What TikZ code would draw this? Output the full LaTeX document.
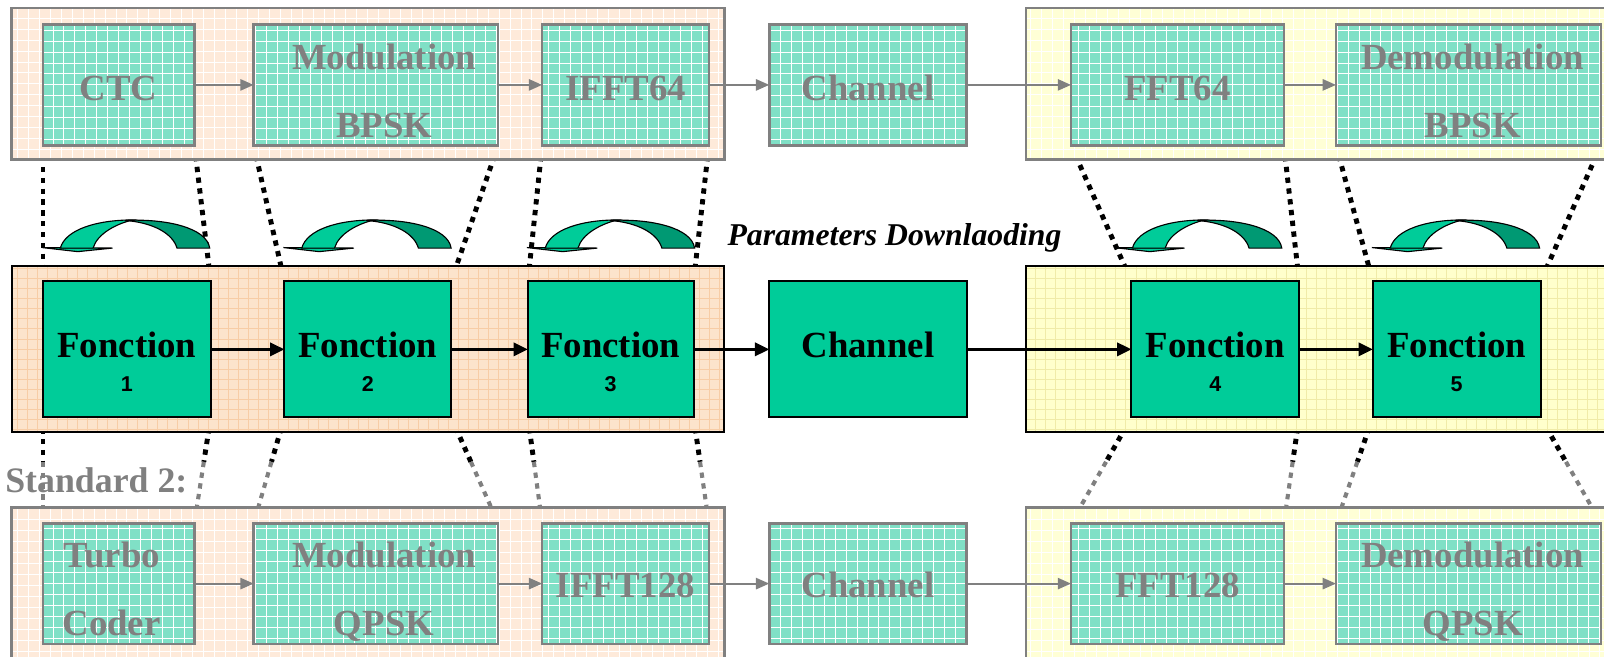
\documentclass[tikz,border=0pt]{standalone}
\usepackage{fontspec}
\setmainfont{Liberation Serif}
\newfontfamily\numfont{Liberation Sans}
\usetikzlibrary{arrows.meta,calc}
\pgfdeclarelayer{lines}
\pgfdeclarelayer{back}
\pgfsetlayers{lines,back,main}
\definecolor{vivid}{HTML}{00CC99}
\definecolor{vividdark}{HTML}{009973}
\definecolor{fadebox}{HTML}{80E0C6}
\definecolor{fgray}{HTML}{808080}
\definecolor{peachF}{HTML}{FEEADA}
\definecolor{peachM}{HTML}{FCE4CC}
\definecolor{peachGrid}{HTML}{F7CDA6}
\definecolor{yellowF}{HTML}{FFFFD6}
\definecolor{yellowM}{HTML}{FFFFCC}
\definecolor{yellowGrid}{HTML}{F0EBA8}
\tikzset{
  gridwhite/.style={path picture={\draw[white, line width=0.9pt, step=10.7pt]
      (path picture bounding box.south west) grid (path picture bounding box.north east);}},
  gridpeach/.style={path picture={\draw[peachGrid, line width=0.6pt, step=9.8pt]
      (path picture bounding box.south west) grid (path picture bounding box.north east);}},
  gridyellow/.style={path picture={\draw[yellowGrid, line width=0.6pt, step=9.8pt]
      (path picture bounding box.south west) grid (path picture bounding box.north east);}},
  fpanel/.style={draw=fgray, line width=2.5pt, inner sep=0pt, outer sep=0pt, gridwhite},
  mpanel/.style={draw=black, line width=2pt, inner sep=0pt, outer sep=0pt},
  fbox/.style={draw=fgray, fill=fadebox, line width=2.5pt, inner sep=0pt, outer sep=0pt,
      minimum height=118pt, gridwhite},
  mbox/.style={draw=black, fill=vivid, line width=2pt, inner sep=0pt, outer sep=0pt,
      minimum height=133pt},
  ftext/.style={anchor=base, inner sep=0pt, text=fgray, font=\fontsize{36}{36}\selectfont\bfseries},
  mtext/.style={anchor=base, inner sep=0pt, font=\fontsize{36}{36}\selectfont\bfseries},
  ntext/.style={anchor=base, inner sep=0pt, font=\fontsize{21}{21}\selectfont\numfont\bfseries},
  dotline/.style={line width=4.8pt, dash pattern=on 5.2pt off 5.4pt},
  dotblack/.style={dotline, draw=black},
  dotgray/.style={dotline, draw=fgray, line width=4pt},
  marr/.style={draw=black, line width=2.6pt, -{Triangle[length=14pt,width=13pt]}},
  farr/.style={draw=fgray, line width=1.8pt, -{Triangle[length=13pt,width=11pt]}},
  uturn/.pic={
    \filldraw[fill=vivid, draw=black, line width=1.1pt] (-1,-0.5) -- (68,0) -- (34,3.5) -- cycle;
    \filldraw[fill=vivid, draw=black, line width=1.1pt] (17,0) .. controls (22,-18) and (52,-27.5) .. (88,-27.5)
       .. controls (72,-24) and (53,-14) .. (49,0) -- cycle;
    \filldraw[fill=vividdark, draw=black, line width=1.1pt] (80,-27) .. controls (120,-29) and (160,-20) .. (163,0)
       -- (131,0) .. controls (127,-14) and (108,-25) .. (80,-27) -- cycle;
  }
}
\begin{document}
\begin{tikzpicture}[x=1pt,y=-1pt]
\useasboundingbox (0,0) rectangle (1568,642);

% ---------- panels ----------
\begin{pgfonlayer}{back}
\begin{scope}
\clip (0,0) rectangle (1568,642);
\node[fpanel, fill=peachF, minimum width=697pt, minimum height=148pt] (tpo) at (359.5,82) {};
\node[fpanel, fill=yellowF, minimum width=587pt, minimum height=148pt] (tpy) at (1296.5,82) {};
\node[mpanel, fill=peachM, gridpeach, minimum width=696pt, minimum height=162pt] (mpo) at (360,341) {};
\node[mpanel, fill=yellowM, gridyellow, minimum width=587pt, minimum height=162pt] (mpy) at (1296.5,341) {};
\node[fpanel, fill=peachF, minimum width=697pt, minimum height=174pt] (bpo) at (359.5,583) {};
\node[fpanel, fill=yellowF, minimum width=587pt, minimum height=174pt] (bpy) at (1296.5,583) {};
\end{scope}
\end{pgfonlayer}

% ---------- top row (standard 1) ----------
\node[fbox, minimum width=148pt] (ctc) at (116,83) {};
\node[fbox, minimum width=239pt] (modb) at (367.5,83) {};
\node[fbox, minimum width=163pt] (ifft64) at (611.5,83) {};
\node[fbox, minimum width=193pt] (chant) at (848.5,83) {};
\node[fbox, minimum width=208pt] (fft64) at (1151,83) {};
\node[fbox, minimum width=259pt] (demb) at (1435.5,83) {};

\node[ftext] (tctc) at ([yshift=-15pt]ctc.center) {CTC};
\node[ftext] (tmodb1) at ([xshift=8pt,yshift=15pt]modb.center) {Modulation};
\node[ftext] (tmodb2) at ([xshift=8pt,yshift=-51pt]modb.center) {BPSK};
\node[ftext] (tifft64) at ([yshift=-15pt]ifft64.center) {IFFT64};
\node[ftext] (tchant) at ([yshift=-15pt]chant.center) {Channel};
\node[ftext] (tfft64) at ([yshift=-15pt]fft64.center) {FFT64};
\node[ftext] (tdemb1) at ([xshift=4pt,yshift=15pt]demb.center) {Demodulation};
\node[ftext] (tdemb2) at ([xshift=4pt,yshift=-51pt]demb.center) {BPSK};

\draw[farr] (ctc.east) -- (modb.west);
\draw[farr] (modb.east) -- (ifft64.west);
\draw[farr] (ifft64.east) -- (chant.west);
\draw[farr] (chant.east) -- (fft64.west);
\draw[farr] (fft64.east) -- (demb.west);

% ---------- middle row ----------
\node[mbox, minimum width=164pt] (f1) at (124,341.5) {};
\node[mbox, minimum width=163pt] (f2) at (359.5,341.5) {};
\node[mbox, minimum width=162pt] (f3) at (597,341.5) {};
\node[mbox, minimum width=193pt] (chm) at (848.5,341.5) {};
\node[mbox, minimum width=164pt] (f4) at (1188,341.5) {};
\node[mbox, minimum width=164pt] (f5) at (1424,341.5) {};

\foreach \f/\n in {f1/1,f2/2,f3/3,f4/4,f5/5}{
  \node[mtext] (t\f) at ([yshift=-7.5pt]\f.center) {Fonction};
  \node[ntext] (n\f) at ([yshift=-41.5pt]\f.center) {\n};
}
\node[mtext] (tchm) at ([yshift=-7.5pt]chm.center) {Channel};

\draw[marr] (f1.east) -- (f2.west);
\draw[marr] (f2.east) -- (f3.west);
\draw[marr] (f3.east) -- (chm.west);
\draw[marr] (chm.east) -- (f4.west);
\draw[marr] (f4.east) -- (f5.west);

% ---------- bottom row (standard 2) ----------
\node[fbox, minimum width=148pt] (tc) at (116,570.5) {};
\node[fbox, minimum width=239pt] (modq) at (367.5,570.5) {};
\node[fbox, minimum width=163pt] (ifft128) at (611.5,570.5) {};
\node[fbox, minimum width=193pt] (chanb) at (848.5,570.5) {};
\node[fbox, minimum width=208pt] (fft128) at (1151,570.5) {};
\node[fbox, minimum width=259pt] (demq) at (1435.5,570.5) {};

\node[ftext] (ttc1) at ([xshift=-7pt,yshift=15.5pt]tc.center) {Turbo};
\node[ftext] (ttc2) at ([xshift=-7pt,yshift=-50.5pt]tc.center) {Coder};
\node[ftext] (tmodq1) at ([xshift=8pt,yshift=15.5pt]modq.center) {Modulation};
\node[ftext] (tmodq2) at ([xshift=8pt,yshift=-50.5pt]modq.center) {QPSK};
\node[ftext] (tifft128) at ([yshift=-14pt]ifft128.center) {IFFT128};
\node[ftext] (tchanb) at ([yshift=-14pt]chanb.center) {Channel};
\node[ftext] (tfft128) at ([yshift=-14pt]fft128.center) {FFT128};
\node[ftext] (tdemq1) at ([xshift=4pt,yshift=15.5pt]demq.center) {Demodulation};
\node[ftext] (tdemq2) at ([xshift=4pt,yshift=-50.5pt]demq.center) {QPSK};

\draw[farr] (tc.east) -- (modq.west);
\draw[farr] (modq.east) -- (ifft128.west);
\draw[farr] (ifft128.east) -- (chanb.west);
\draw[farr] (chanb.east) -- (fft128.west);
\draw[farr] (fft128.east) -- (demq.west);

% ---------- labels and mapping lines (behind the panels) ----------
\begin{pgfonlayer}{lines}
\node[anchor=base west, inner sep=0pt, text=fgray, font=\fontsize{35}{35}\selectfont\bfseries]
  (std2) at (5,481) {Standard 2:};
\foreach \a/\b in {ctc/f1, modb/f2, ifft64/f3, fft64/f4, demb/f5}{
  \draw[dotblack] (\a.south west) -- (\b.north west);
  \draw[dotblack] (\a.south east) -- (\b.north east);
}
\foreach \a/\b in {f1/tc, f2/modq, f3/ifft128, f4/fft128, f5/demq}{
  \draw[dotblack] (\a.south west) -- ($(\a.south west)!0.42!(\b.north west)$);
  \draw[dotgray] ($(\a.south west)!0.42!(\b.north west)$) -- (\b.north west);
  \draw[dotblack] (\a.south east) -- ($(\a.south east)!0.42!(\b.north east)$);
  \draw[dotgray] ($(\a.south east)!0.42!(\b.north east)$) -- (\b.north east);
}
\end{pgfonlayer}

% ---------- parameter downloading ----------
\node[anchor=base west, inner sep=0pt, font=\fontsize{31}{31}\selectfont\bfseries\itshape]
  (param) at (711,240) {Parameters Downlaoding};
\pic at (42,242.5) {uturn};
\pic at (278,242.5) {uturn};
\pic at (516,242.5) {uturn};
\pic at (1090,242.5) {uturn};
\pic at (1342,242.5) {uturn};
\end{tikzpicture}
\end{document}
